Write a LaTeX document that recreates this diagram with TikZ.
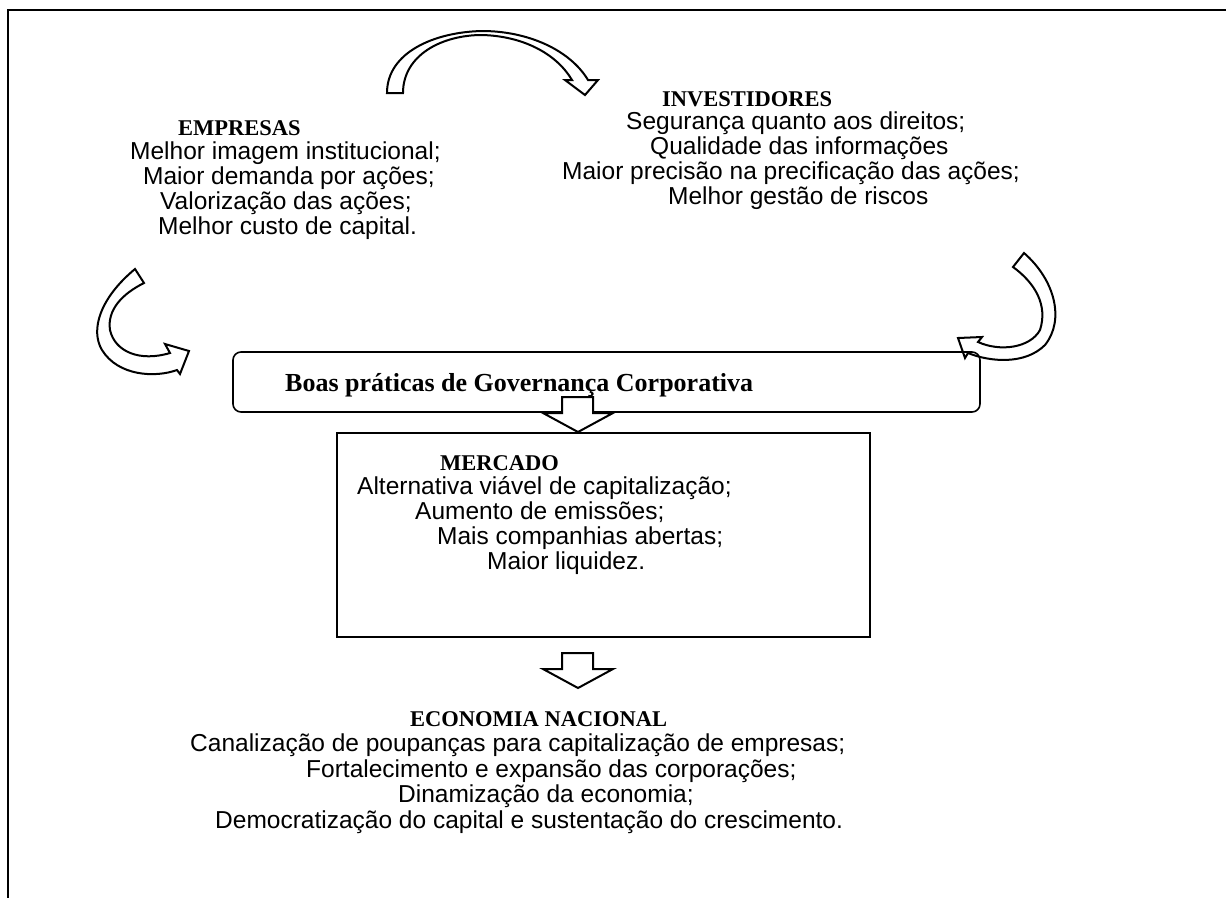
\documentclass[tikz,border=0pt]{standalone}
\usepackage{fontspec}
\setmainfont{Liberation Sans}
\newfontfamily\headfont{Liberation Serif}
\usetikzlibrary{positioning}

\tikzset{
  body/.style={font=\fontsize{24.5}{25}\selectfont, align=left, inner sep=0pt, anchor=west},
  head/.style={font=\headfont\bfseries\fontsize{22.5}{24}\selectfont, inner sep=0pt, anchor=west},
  blockarrow/.style={draw, line width=2pt, fill=white, line join=miter},
  downarrow/.pic={\draw[blockarrow] (-16,0) -- (15,0) -- (15,16) -- (35,16) -- (0,35) -- (-35,16) -- (-16,16) -- cycle;}
}

\begin{document}
\begin{tikzpicture}[x=1pt, y=-1pt]
\useasboundingbox (0,0) rectangle (1226,898);
% frame
\draw[line width=2pt] (1226,10) -- (8,10) -- (8,898);

% curved arrows
\draw[blockarrow] (387,93) .. controls (387,52) and (435,32) .. (482,31) .. controls (528,31) and (570,50) .. (588,80) -- (598,80) -- (585,95) -- (565,80) -- (572,80) .. controls (556,53) and (522,36) .. (482,35) .. controls (442,35) and (403,55) .. (403,93) -- cycle;
\draw[blockarrow] (135,269) .. controls (100,298) and (90,330) .. (102,350) .. controls (118,376) and (155,378) .. (177,370) -- (180,374) -- (189,351) -- (165,344) -- (170,353) .. controls (140,362) and (115,352) .. (110,330) .. controls (107,310) and (122,294) .. (144,283) -- cycle;
\draw[blockarrow] (1024,253) .. controls (1055,280) and (1065,320) .. (1045,345) .. controls (1025,365) and (990,362) .. (968,353) -- (965,358) -- (958,338) -- (982,337) -- (978,342) .. controls (1000,352) and (1030,348) .. (1040,330) .. controls (1048,305) and (1035,283) .. (1013,267) -- cycle;

% empresas
\node[head] (emp) at (178,128) {EMPRESAS};
\node[body] (empbody) at (130,191) {Melhor imagem institucional;\\
  \hspace*{13pt}Maior demanda por ações;\\
  \hspace*{30pt}Valorização das ações;\\
  \hspace*{28pt}Melhor custo de capital.};

% investidores
\node[head] (inv) at (662,99) {INVESTIDORES};
\node[body] (invbody) at (562,161) {\hspace*{64pt}Segurança quanto aos direitos;\\
  \hspace*{88pt}Qualidade das informações\\
  Maior precisão na precificação das ações;\\
  \hspace*{106pt}Melhor gestão de riscos};

% governanca
\node[draw, line width=1.6pt, rounded corners=8pt, minimum width=747pt, minimum height=60pt] (boas) at (606.5,382) {};
\node[head, font=\headfont\bfseries\fontsize{26}{28}\selectfont] (boastxt) at (285,385) {Boas práticas de Governança Corporativa};

\pic at (578,397) {downarrow};

% mercado
\node[draw, line width=1.6pt, minimum width=533pt, minimum height=204pt] (merc) at (603.5,535) {};
\node[head] (merctitle) at (440,463) {MERCADO};
\node[body] (mercbody) at (357,526) {Alternativa viável de capitalização;\\
  \hspace*{58pt}Aumento de emissões;\\
  \hspace*{80pt}Mais companhias abertas;\\
  \hspace*{130pt}Maior liquidez.};

\pic at (578,653) {downarrow};

% economia
\node[head] (eco) at (410,719) {ECONOMIA NACIONAL};
\node[body, font=\fontsize{24.5}{25.5}\selectfont] (ecobody) at (190,783.5) {Canalização de poupanças para capitalização de empresas;\\
  \hspace*{116pt}Fortalecimento e expansão das corporações;\\
  \hspace*{208pt}Dinamização da economia;\\
  \hspace*{25pt}Democratização do capital e sustentação do crescimento.};
\end{tikzpicture}
\end{document}
